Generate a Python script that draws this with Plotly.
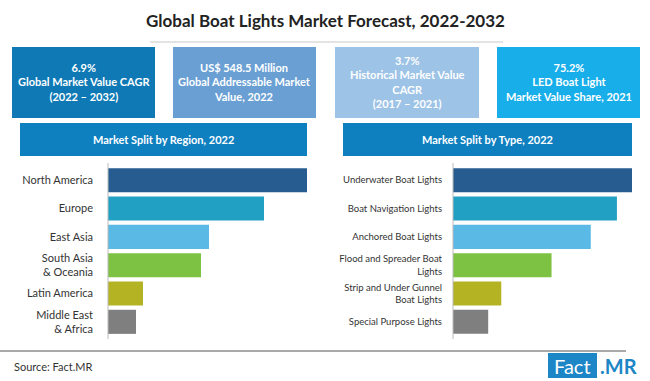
import plotly.graph_objects as go

W, H = 650, 381

title = "Global Boat Lights Market Forecast, 2022-2032"

kpi_texts = [
    "6.9%<br>Global Market Value CAGR<br>(2022 – 2032)",
    "US$ 548.5 Million<br>Global Addressable Market<br>Value, 2022",
    "3.7%<br>Historical Market Value<br>CAGR<br>(2017 – 2021)",
    "75.2%<br>LED Boat Light<br>Market Value Share, 2021",
]
kpi_colors = ["#0E79B5", "#6A9FD4", "#9DC3E6", "#17AEEA"]

region_title = "Market Split by Region, 2022"
regions = ["North America", "Europe", "East Asia", "South Asia<br>& Oceania",
           "Latin America", "Middle East<br>& Africa"]
region_values = [199, 156, 101, 93, 35, 28]

type_title = "Market Split by Type, 2022"
types = ["Underwater Boat Lights", "Boat Navigation Lights", "Anchored Boat Lights",
         "Flood and Spreader Boat<br>Lights", "Strip and Under Gunnel<br>Boat Lights",
         "Special Purpose Lights"]
type_values = [178, 163, 137, 98, 48, 35]

bar_colors = ["#265C8F", "#21A0C4", "#5BB9E5", "#7DC243", "#B4B324", "#7F7F7F"]

source = "Source: Fact.MR"

FONT = "Lato"


def px(x):
    return x / W


def py(y):
    return 1 - y / H


fig = go.Figure()

fig.add_trace(go.Bar(x=region_values, y=regions, orientation="h",
                     marker=dict(color=bar_colors, line=dict(width=0)),
                     xaxis="x", yaxis="y", hoverinfo="skip"))
fig.add_trace(go.Bar(x=type_values, y=types, orientation="h",
                     marker=dict(color=bar_colors, line=dict(width=0)),
                     xaxis="x2", yaxis="y2", hoverinfo="skip"))

shapes = []
annotations = []

# title
annotations.append(dict(x=px(326), y=py(20), xref="paper", yref="paper",
                        text="<b>" + title + "</b>", showarrow=False,
                        font=dict(family=FONT, size=17, color="#222222"),
                        xanchor="center", yanchor="middle"))
shapes.append(dict(type="line", xref="paper", yref="paper",
                   x0=px(150), x1=px(503), y0=py(42), y1=py(42),
                   line=dict(color="#C8C8C8", width=1)))

# KPI boxes
box_x = [(12, 155), (173, 316), (335, 479), (497, 640)]
for (x0, x1), col, txt in zip(box_x, kpi_colors, kpi_texts):
    shapes.append(dict(type="rect", xref="paper", yref="paper",
                       x0=px(x0), x1=px(x1), y0=py(118), y1=py(47),
                       fillcolor=col, line=dict(width=0), layer="below"))
    annotations.append(dict(x=px((x0 + x1) / 2), y=py(82), xref="paper", yref="paper",
                            text="<b>" + txt + "</b>", showarrow=False, align="center",
                            font=dict(family=FONT, size=11, color="white"),
                            xanchor="center", yanchor="middle"))

# section headers
for (x0, x1), txt in [((20, 307), region_title), ((343, 632), type_title)]:
    shapes.append(dict(type="rect", xref="paper", yref="paper",
                       x0=px(x0), x1=px(x1), y0=py(156), y1=py(123),
                       fillcolor="#0E7FBF", line=dict(width=0), layer="below"))
    annotations.append(dict(x=px((x0 + x1) / 2), y=py(139.5), xref="paper", yref="paper",
                            text="<b>" + txt + "</b>", showarrow=False,
                            font=dict(family=FONT, size=11, color="white"),
                            xanchor="center", yanchor="middle"))

# axis lines
for ax in (108, 453):
    shapes.append(dict(type="line", xref="paper", yref="paper",
                       x0=px(ax), x1=px(ax), y0=py(163), y1=py(339),
                       line=dict(color="#BBBBBB", width=1)))

# footer
shapes.append(dict(type="line", xref="paper", yref="paper",
                   x0=px(0), x1=px(626), y0=py(351), y1=py(351),
                   line=dict(color="#555555", width=1)))
annotations.append(dict(x=px(12), y=py(366), xref="paper", yref="paper",
                        text=source, showarrow=False,
                        font=dict(family=FONT, size=11, color="#333333"),
                        xanchor="left", yanchor="middle"))
shapes.append(dict(type="rect", xref="paper", yref="paper",
                   x0=px(548), x1=px(597), y0=py(378), y1=py(353),
                   fillcolor="#1D86C6", line=dict(width=0)))
annotations.append(dict(x=px(572.5), y=py(365.5), xref="paper", yref="paper",
                        text="Fact", showarrow=False,
                        font=dict(family=FONT, size=20, color="white"),
                        xanchor="center", yanchor="middle"))
annotations.append(dict(x=px(598), y=py(365.5), xref="paper", yref="paper",
                        text="<b>.MR</b>", showarrow=False,
                        font=dict(family=FONT, size=20, color="#1D86C6"),
                        xanchor="left", yanchor="middle"))

ydom = [py(336), py(166)]

fig.update_layout(
    width=W, height=H,
    margin=dict(l=0, r=0, t=0, b=0),
    paper_bgcolor="white", plot_bgcolor="rgba(0,0,0,0)",
    showlegend=False, bargap=0.15,
    shapes=shapes, annotations=annotations,
    xaxis=dict(domain=[px(108), px(307)], range=[0, region_values[0]],
               visible=False, fixedrange=True),
    yaxis=dict(domain=ydom, autorange="reversed", showgrid=False, zeroline=False,
               showline=False, ticks="", ticklabelstandoff=14,
               tickfont=dict(family=FONT, size=11, color="#333333"), anchor="x"),
    xaxis2=dict(domain=[px(453), px(632)], range=[0, type_values[0]],
                visible=False, fixedrange=True, anchor="y2"),
    yaxis2=dict(domain=ydom, autorange="reversed", showgrid=False, zeroline=False,
                showline=False, ticks="", ticklabelstandoff=10,
                tickfont=dict(family=FONT, size=9.5, color="#333333"), anchor="x2"),
)

fig.write_html("out.html", config={"displayModeBar": False},
               post_script="document.body.style.margin='0';document.body.style.overflow='hidden';")
